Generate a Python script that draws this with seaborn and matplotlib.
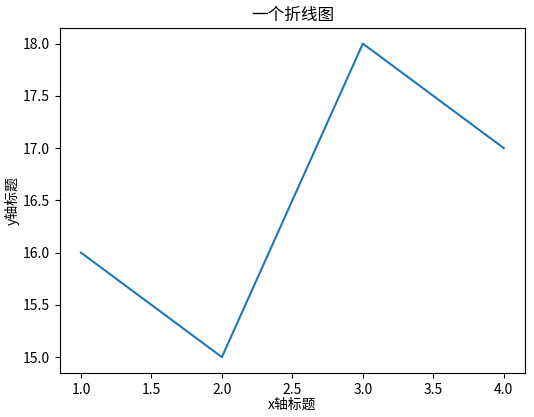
import matplotlib
matplotlib.use("Agg")
import pandas as pd
import seaborn as sns
import matplotlib.pyplot as plt

x_values = [1, 2, 3, 4]
y_values = [16, 15, 18, 17]

plt.rcParams['font.family'] = ['Noto Sans CJK SC', 'DejaVu Sans']
plt.rcParams['axes.unicode_minus'] = False

df = pd.DataFrame({'x': x_values, 'y': y_values})

fig, ax = plt.subplots(figsize=(5.34, 4.17), dpi=100)
sns.lineplot(data=df, x='x', y='y', ax=ax, color='#1f77b4')
ax.set_title('一个折线图')
ax.set_xlabel('x轴标题', labelpad=1)
ax.set_ylabel('y轴标题', labelpad=2)
fig.subplots_adjust(left=0.112, right=0.983, top=0.933, bottom=0.106)
fig.savefig('out.png', dpi=100)
